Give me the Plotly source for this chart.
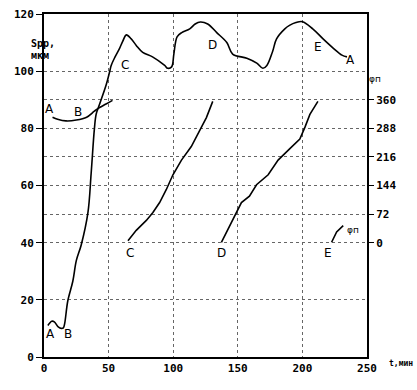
import plotly.graph_objects as go

# Main Spp curve (left axis, мкм)
spp_t = [3, 6, 8, 11, 13.5, 15, 16, 18.4, 22.3, 25, 28.8, 34, 36.5, 39, 40.4, 43, 48.2, 50.8, 52, 55, 58.5, 61, 63.7,
         67.5, 71.4, 76.4, 84, 93.4, 95.7, 98.8, 100.5, 103, 106.6, 112.8, 117, 121, 126.7, 133.7, 141.5, 146, 157,
         164.7, 169.4, 172.5, 177, 180, 186.4, 190, 195, 200, 208, 216, 224, 230.6, 234.5]
spp_v = [11, 12.5, 12.3, 10.5, 10, 10.2, 11.7, 19.6, 26.5, 33.7, 39.2, 50.5, 64.3, 79.8, 85, 88.4, 95.3, 99.8, 102, 105,
         108, 110.5, 112.7, 111.3, 109, 106.6, 105, 102, 101, 101.5, 106, 112, 113.5, 114.8, 116.5, 117.2, 116.5, 113.5,
         110, 106, 104.5, 102.8, 101, 102, 107, 111.3, 114.8, 116, 117, 117.3, 114.8, 111.3, 108, 105.6, 105]

# A-B curve (left axis)
ab_t = [6.6, 10.5, 17, 25, 33, 39, 43, 48, 53]
ab_v = [83.9, 83.2, 82.6, 82.9, 83.9, 86, 87.3, 88.5, 89.8]

# Phase curves (right axis, degrees)
c_t = [65, 71.4, 79.2, 84.3, 89.5, 94.7, 99.8, 106.4, 114, 120.5, 125.7, 130.6]
c_phi = [5, 31, 56, 76, 101, 134, 171, 208, 242, 282, 315, 356]
d_t = [137.3, 142.4, 149, 152.8, 159, 164.5, 173.5, 181.2, 190.3, 198, 202, 205.8, 212]
d_phi = [1, 35, 76, 101, 117, 146, 171, 208, 237, 261, 291, 323, 356]
e_t = [222.6, 226.5, 231.6]
e_phi = [1, 27, 43]

x_ticks = [0, 50, 100, 150, 200, 250]
y_ticks = [0, 20, 40, 60, 80, 100, 120]
phi_ticks = [0, 72, 144, 216, 288, 360]

MONO = "DejaVu Sans Mono"
BLACK = "black"
line = dict(color=BLACK, width=1.6)

fig = go.Figure()
fig.add_trace(go.Scatter(x=spp_t, y=spp_v, mode="lines", line=line, line_shape="spline"))
fig.add_trace(go.Scatter(x=ab_t, y=ab_v, mode="lines", line=line, line_shape="spline"))
for tx, ph in [(c_t, c_phi), (d_t, d_phi), (e_t, e_phi)]:
    fig.add_trace(go.Scatter(x=tx, y=ph, mode="lines", line=line, yaxis="y2"))

grid = dict(gridcolor="#666666", gridwidth=1, griddash="dot")
tf = dict(family=MONO, size=11, color=BLACK)
fig.update_layout(
    width=417, height=390,
    margin=dict(l=44, r=50, t=8, b=33),
    paper_bgcolor="white", plot_bgcolor="white",
    showlegend=False,
    font=dict(family=MONO, size=11, color=BLACK),
    xaxis=dict(range=[0, 250], tickvals=x_ticks, ticktext=["<b>%d</b>" % v for v in x_ticks],
               showline=True, linecolor=BLACK, linewidth=2, mirror=True,
               ticks="", zeroline=False, showgrid=True, **grid, tickfont=tf),
    yaxis=dict(range=[0, 120], tickvals=y_ticks, ticktext=["<b>%d</b>" % v for v in y_ticks],
               showline=True, linecolor=BLACK, linewidth=2,
               ticks="outside", ticklen=6, tickcolor=BLACK, zeroline=False,
               showgrid=True, **grid, tickfont=tf),
    yaxis2=dict(range=[-288, 576], overlaying="y", side="right", tickvals=phi_ticks,
                ticktext=["<b>%d</b>" % v for v in phi_ticks],
                showline=True, linecolor=BLACK, linewidth=2,
                ticks="outside", ticklen=5, tickcolor=BLACK, zeroline=False,
                showgrid=True, **grid, tickfont=tf),
)

LBL = dict(family="DejaVu Sans", size=12, color=BLACK)
labels = [("A", 4.3, 86.7), ("B", 26, 85.6), ("C", 62.4, 102.1), ("D", 130.6, 109), ("E", 212, 108.3),
          ("A", 237.6, 103.9), ("A", 5, 7.9), ("B", 18.2, 7.9), ("C", 66.3, 36.5), ("D", 137, 36.5),
          ("E", 219.7, 36.5)]
for txt, x, y in labels:
    fig.add_annotation(x=x, y=y, text=txt, showarrow=False, font=LBL, xref="x", yref="y")
SMALL = dict(family="DejaVu Sans", size=9, color=BLACK)
fig.add_annotation(x=239.5, y=44.5, text="φп", showarrow=False, font=SMALL, xref="x", yref="y")
fig.add_annotation(x=1.05, y=0.83, text="φп", showarrow=False, font=SMALL, xref="paper", yref="paper")
fig.add_annotation(x=-0.046, y=0.935, text="<b>Spp,</b>", showarrow=False, font=dict(family=MONO, size=10, color=BLACK),
                   xref="paper", yref="paper")
fig.add_annotation(x=-0.046, y=0.902, text="<b>мкм</b>", showarrow=False, font=dict(family=MONO, size=10, color=BLACK),
                   xref="paper", yref="paper")
fig.add_annotation(x=1.062, y=-0.037, xanchor="left", text="<b>t,мин</b>", showarrow=False,
                   font=dict(family=MONO, size=8, color=BLACK), xref="paper", yref="paper")

fig.write_html("out.html")
